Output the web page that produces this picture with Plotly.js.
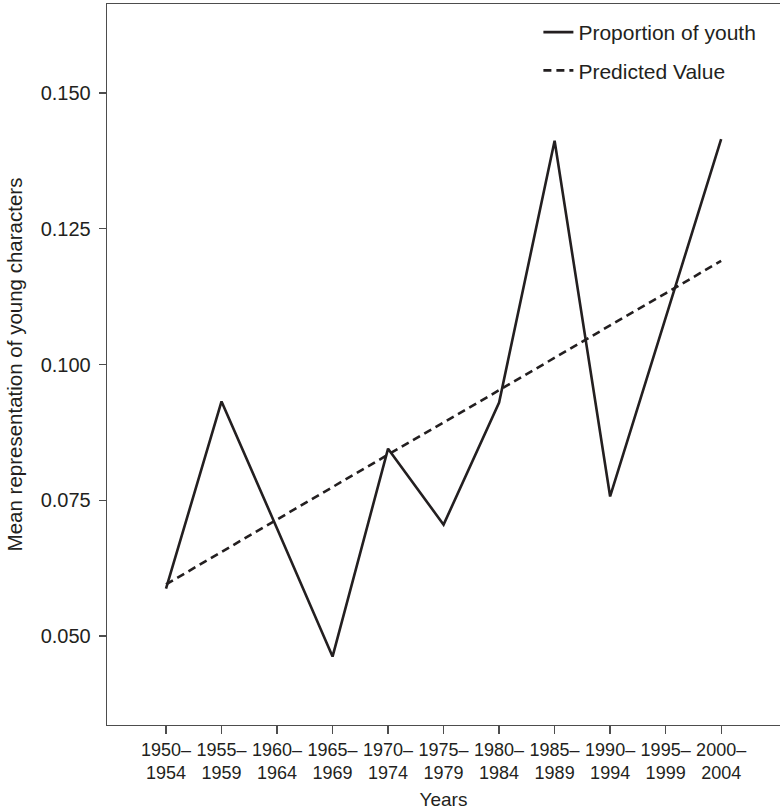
<!DOCTYPE html>
<html>
<head>
<meta charset="utf-8">
<script src="https://cdn.plot.ly/plotly-3.0.1.min.js"></script>
<style>html,body{margin:0;padding:0;background:#fff;}#chart{width:780px;height:811px;}</style>
</head>
<body>
<div id="chart"></div>
<script>
var periods = ["1950–<br>1954","1955–<br>1959","1960–<br>1964","1965–<br>1969","1970–<br>1974","1975–<br>1979","1980–<br>1984","1985–<br>1989","1990–<br>1994","1995–<br>1999","2000–<br>2004"];
var proportionOfYouth = [0.0587, 0.0932, 0.0698, 0.0462, 0.0845, 0.0705, 0.0930, 0.1412, 0.0757, 0.1086, 0.1415];
var predictedValue = [0.0595, 0.0655, 0.0714, 0.0774, 0.0834, 0.0893, 0.0953, 0.1012, 0.1072, 0.1131, 0.1191];
var yTicks = [0.050, 0.075, 0.100, 0.125, 0.150];
var seriesNames = ["Proportion of youth", "Predicted Value"];

var ink = "#231f20";
var font = "'Liberation Sans', Arial, Helvetica, sans-serif";

var traces = [
  {x: periods, y: proportionOfYouth, type: "scatter", mode: "lines", name: seriesNames[0],
   legendgroup: "a", line: {color: ink, width: 2.6}},
  {x: periods, y: predictedValue, type: "scatter", mode: "lines", name: seriesNames[1],
   legendgroup: "b", line: {color: ink, width: 2.6, dash: "8px,5px"}}
];

var layout = {
  width: 780, height: 811,
  margin: {l: 107, r: 0, t: 4, b: 86},
  paper_bgcolor: "#fff", plot_bgcolor: "#fff",
  font: {family: font, color: ink, size: 18},
  showlegend: true,
  legend: {x: 0.641, y: 0.989, xanchor: "left", yanchor: "top", bgcolor: "rgba(0,0,0,0)",
           font: {size: 21, color: ink}, tracegroupgap: 8, traceorder: "grouped"},
  xaxis: {
    type: "category", range: [-1.063, 11.06],
    showline: true, linecolor: "#4d4d4d", linewidth: 1.3, mirror: true,
    showgrid: false, zeroline: false,
    ticks: "outside", ticklen: 8, tickwidth: 1.3, tickcolor: "#4d4d4d",
    tickfont: {size: 18, color: ink},
    title: {text: "Years", font: {size: 19, color: ink}, standoff: 10}
  },
  yaxis: {
    range: [0.0336, 0.1664],
    tickvals: yTicks, tickformat: ".3f",
    showline: true, linecolor: "#4d4d4d", linewidth: 1.3,
    showgrid: false, zeroline: false,
    ticks: "outside", ticklen: 7, tickwidth: 1.3, tickcolor: "#4d4d4d",
    tickfont: {size: 20, color: ink},
    ticklabelstandoff: 4,
    title: {text: "Mean representation of young characters", font: {size: 20.5, color: ink}, standoff: 12}
  }
};

Plotly.newPlot("chart", traces, layout, {displayModeBar: false, staticPlot: true});
</script>
</body>
</html>
